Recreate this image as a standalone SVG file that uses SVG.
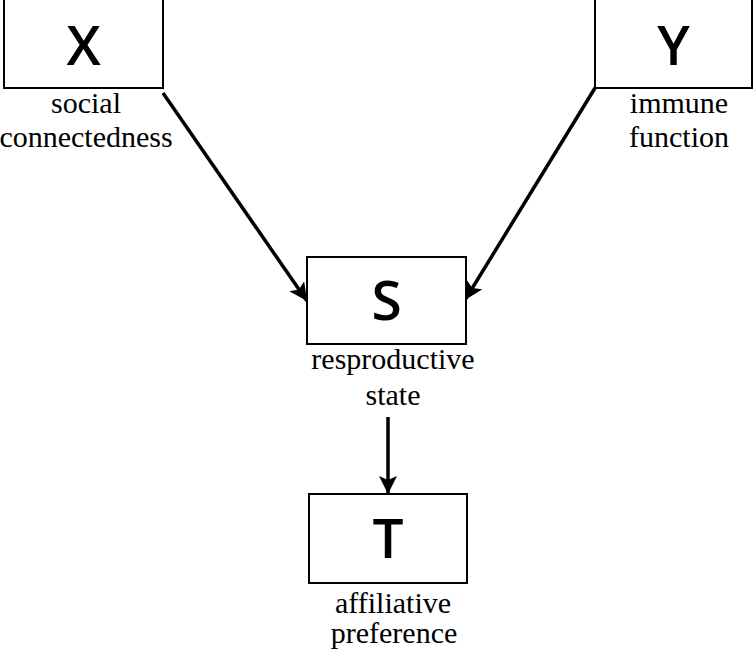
<svg xmlns="http://www.w3.org/2000/svg" width="753" height="655" viewBox="0 0 753 655">
<style>
.box{fill:#fff;stroke:#000;stroke-width:2}
.var{font-family:"Open Sans","Liberation Sans",sans-serif;font-size:55px;font-weight:600;text-anchor:middle;fill:#000}
.lbl{font-family:"Liberation Serif","Times New Roman",serif;font-size:30px;text-anchor:middle;fill:#000}
.edge{stroke:#000;stroke-width:3.5;fill:none;marker-end:url(#ah)}
</style>
<defs>
<marker id="ah" markerUnits="userSpaceOnUse" markerWidth="20" markerHeight="18" refX="18" refY="9" orient="auto">
<path d="M0,0 L18,9 L0,18 L4,9 Z" fill="#000"/>
</marker>
</defs>
<rect width="753" height="655" fill="#fff"/>
<g id="connectors">
<line class="edge" x1="163" y1="93" x2="307" y2="301"/>
<line class="edge" x1="595" y1="88" x2="465" y2="300"/>
<line class="edge" x1="388" y1="417" x2="388" y2="494"/>
</g>
<g id="X">
<rect class="box" x="4" y="-2" width="159" height="90"/>
<text class="var" x="83.5" y="65">X</text>
<text class="lbl" x="86" y="113">social</text>
<text class="lbl" x="86" y="147">connectedness</text>
</g>
<g id="Y">
<rect class="box" x="595" y="-2" width="157" height="90"/>
<text class="var" x="673.5" y="65">Y</text>
<text class="lbl" x="679" y="113">immune</text>
<text class="lbl" x="679" y="147">function</text>
</g>
<g id="S">
<rect class="box" x="307" y="257" width="159" height="87"/>
<text class="var" x="386.5" y="320">S</text>
<text class="lbl" x="393" y="369">resproductive</text>
<text class="lbl" x="393" y="405">state</text>
</g>
<g id="T">
<rect class="box" x="309" y="494" width="158" height="89"/>
<text class="var" x="388" y="558">T</text>
<text class="lbl" x="393" y="613">affiliative</text>
<text class="lbl" x="394" y="643">preference</text>
</g>
</svg>
